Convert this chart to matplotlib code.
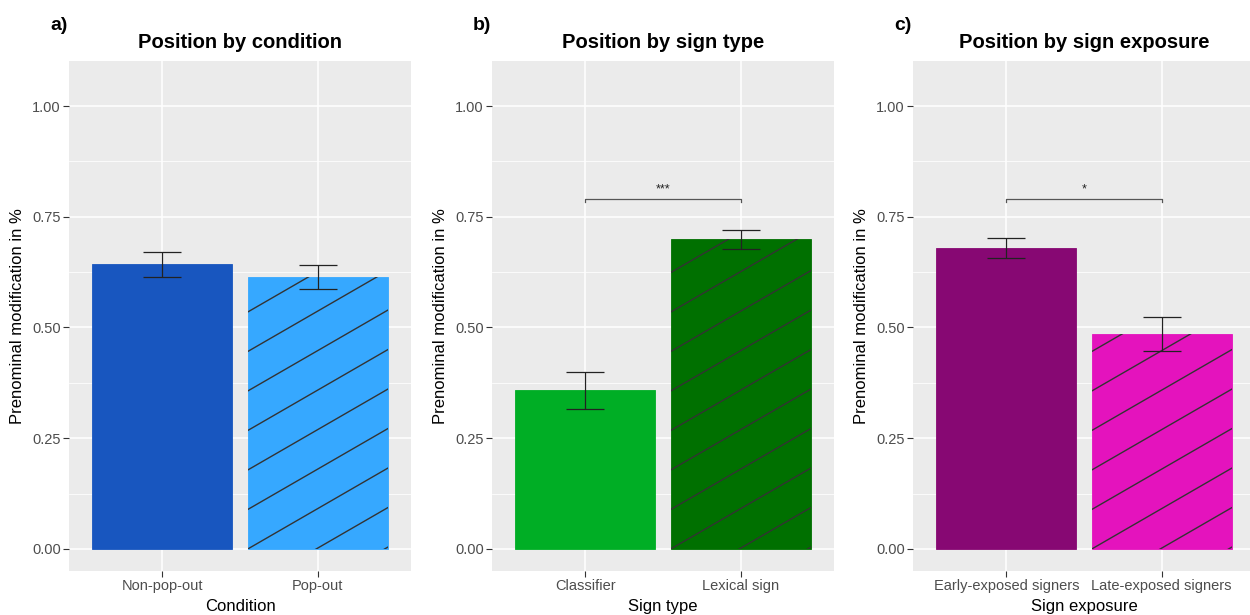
import matplotlib
matplotlib.use("Agg")
from matplotlib import pyplot as plt
import numpy as np

plt.rcParams.update({'font.family': ['Liberation Sans', 'DejaVu Sans']})

# data
panel_tags = ["a)", "b)", "c)"]
titles = ["Position by condition", "Position by sign type", "Position by sign exposure"]
xlabels = ["Condition", "Sign type", "Sign exposure"]
categories = [["Non-pop-out", "Pop-out"],
              ["Classifier", "Lexical sign"],
              ["Early-exposed signers", "Late-exposed signers"]]
means = [[0.644, 0.615],
         [0.360, 0.700],
         [0.680, 0.486]]
err_low = [[0.615, 0.587],
           [0.317, 0.678],
           [0.657, 0.447]]
err_high = [[0.670, 0.641],
            [0.400, 0.719],
            [0.701, 0.524]]
signif = ["", "***", "*"]
signif_y = 0.789
colors = [["#1856BF", "#36A8FF"],
          ["#00AE25", "#007000"],
          ["#870873", "#E413BD"]]
hatched = [False, True]

W, H = 1250, 615
fig = plt.figure(figsize=(W / 100, H / 100), dpi=100)

panel_left = [69, 492, 913]
panel_w, panel_top, panel_bot = 342, 61, 571
ylo, yhi = -0.0497, 1.1016

label_col = "#4D4D4D"
bg = "#EBEBEB"

for p in range(3):
    ax = fig.add_axes([panel_left[p] / W, (H - panel_bot) / H,
                       panel_w / W, (panel_bot - panel_top) / H])
    ax.set_facecolor(bg)
    for s in ax.spines.values():
        s.set_visible(False)
    ax.set_xlim(0.4, 2.6)
    ax.set_ylim(ylo, yhi)
    ax.set_yticks([0, 0.25, 0.5, 0.75, 1.0])
    ax.set_yticks([0.125, 0.375, 0.625, 0.875], minor=True)
    ax.set_yticklabels(["0.00", "0.25", "0.50", "0.75", "1.00"])
    ax.set_xticks([1, 2])
    ax.set_xticklabels(categories[p])
    ax.tick_params(axis='both', which='major', length=4, width=0.8, color="#333333",
                   labelcolor=label_col, labelsize=10.5, pad=2)
    ax.tick_params(axis='y', which='minor', length=0)
    ax.grid(True, which='major', color='white', lw=1.1)
    ax.grid(True, which='minor', axis='y', color='white', lw=0.55)
    ax.set_axisbelow(True)

    xs = np.array([1, 2])
    bars = ax.bar(xs, means[p], width=0.9, color=colors[p], zorder=2,
                  edgecolor=colors[p], linewidth=0.6)

    # px per data unit, for the 30 degree stripes
    px_x = panel_w / 2.2
    px_y = (panel_bot - panel_top) / (yhi - ylo)
    slope = np.tan(np.radians(30)) * px_x / px_y
    spacing = 39.5 / px_y
    for i, b in enumerate(bars):
        if not hatched[i]:
            continue
        x0 = b.get_x()
        x1 = x0 + b.get_width()
        for k in range(-10, 30):
            yy0 = k * spacing
            ln, = ax.plot([x0, x1], [yy0, yy0 + slope * (x1 - x0)],
                          color="#333333", lw=1.0, zorder=3)
            ln.set_clip_path(b)

    lo = np.array(means[p]) - np.array(err_low[p])
    hi = np.array(err_high[p]) - np.array(means[p])
    ax.errorbar(xs, means[p], yerr=[lo, hi], fmt='none', ecolor="#222222",
                elinewidth=0.9, capsize=13.7, capthick=0.9, zorder=4)

    if signif[p]:
        ax.plot([1, 1, 2, 2], [signif_y - 0.006, signif_y, signif_y, signif_y - 0.006],
                color="#555555", lw=0.9, zorder=4)
        ax.text(1.5, signif_y + 0.022, signif[p], ha='center', va='center',
                fontsize=9, color="#222222", zorder=4)

    ax.set_title(titles[p], fontsize=14.5, fontweight='bold', pad=9)
    ax.set_ylabel("Prenominal modification in %", fontsize=12, va='center')
    ax.yaxis.set_label_coords(-0.1506, 0.5)
    ax.set_xlabel(xlabels[p], fontsize=12, va='center')
    ax.xaxis.set_label_coords(0.5, -0.070)

    fig.text((panel_left[p] - 19) / W, 1 - 25 / H, panel_tags[p],
             fontsize=14, fontweight='bold', ha='left', va='center')

fig.savefig("out.png", dpi=100)
